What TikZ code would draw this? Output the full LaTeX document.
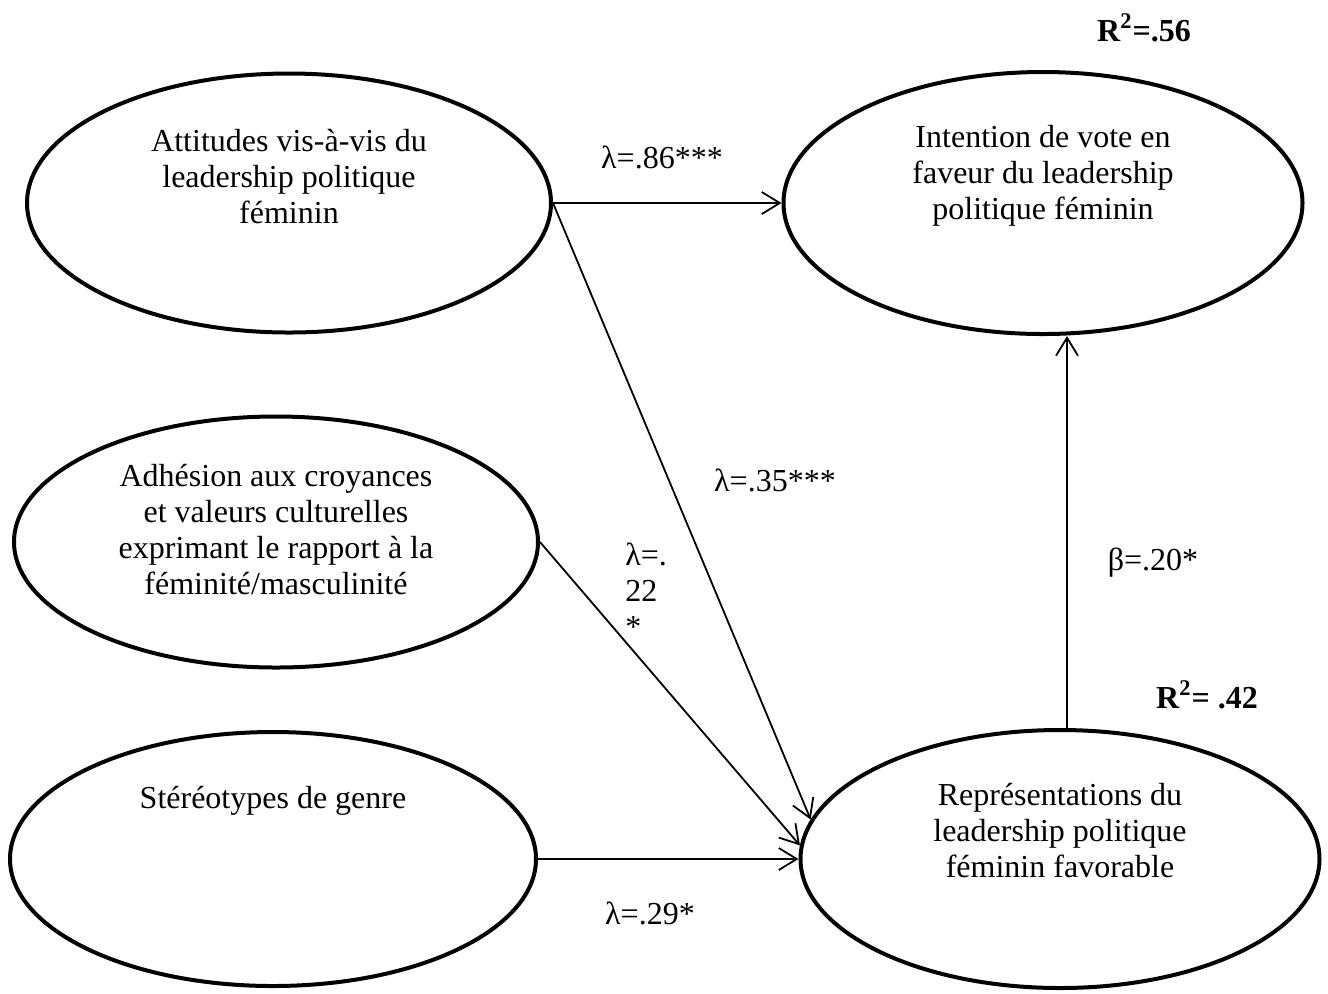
\documentclass[tikz,border=0pt]{standalone}
\usepackage{fontspec}
\setmainfont{Liberation Serif}
\usetikzlibrary{arrows.meta, shapes.geometric, positioning, calc}

\begin{document}
\begin{tikzpicture}[
    x=0.5pt, y=-0.5pt,
    >={Straight Barb[length=9pt, width=11pt]},
    construct/.style={
      ellipse, draw=black, line width=2pt, inner sep=0pt,
      minimum width=261pt, minimum height=129pt,
    },
    every node/.style={font=\fontsize{16}{18}\selectfont},
    construct text/.style={align=center, inner sep=0pt},
    path arrow/.style={->, line width=0.9pt},
    coef/.style={inner sep=0pt},
    rsq/.style={inner sep=0pt, font=\fontsize{16}{18}\selectfont\bfseries},
  ]

  %% ---- canvas (1 unit = 1 px of the layout) ----
  \useasboundingbox (0,0) rectangle (1328,993);

  %% ---- latent constructs ----
  \node[construct, minimum width=262pt, minimum height=129.5pt]
    (att) at (289,203) {};
  \node[construct, minimum width=259.5pt, minimum height=131pt]
    (int) at (1043,203) {};
  \node[construct, minimum width=262pt, minimum height=125.5pt]
    (adh) at (276,542) {};
  \node[construct, minimum width=263pt, minimum height=127pt]
    (ste) at (273,859) {};
  \node[construct, minimum width=259.5pt, minimum height=129pt]
    (rep) at (1060,859) {};

  % texts sit in the upper half of each ellipse
  \node[construct text] (attText) at ([yshift=13pt]att.center)
    {Attitudes vis-à-vis du\\leadership politique\\féminin};
  \node[construct text] (intText) at ([yshift=13.5pt]int.center)
    {Intention de vote en\\faveur du leadership\\politique féminin};
  \node[construct text] (adhText) at ([yshift=6pt]adh.center)
    {Adhésion aux croyances\\et valeurs culturelles\\exprimant le rapport à la\\féminité/masculinité};
  \node[construct text] (steText) at ([yshift=29pt]ste.center)
    {Stéréotypes de genre};
  \node[construct text] (repText) at ([yshift=14pt]rep.center)
    {Représentations du\\leadership politique\\féminin favorable};

  %% ---- paths ----
  \draw[path arrow] (att.east) -- (int.west);
  \draw[path arrow] (att.east) -- (rep.171.6);
  \draw[path arrow] (adh.east) -- (rep.177.6);
  \draw[path arrow] (ste.east) -- (rep.west);
  \draw[path arrow] ([xshift=3.5pt]rep.north)
    -- ([xshift=3.5pt]rep.north |- int.south);

  %% ---- coefficients ----
  \node[coef] (l86) at (662,157) {λ=.86***};
  \node[coef] (l35) at (775,480) {λ=.35***};
  \node[coef, align=left, anchor=west] (l22) at (625,590) {λ=.\\22\\*};
  \node[coef] (l29) at (650,913) {λ=.29*};
  \node[coef] (b20) at (1153,563) {β=.20*};

  %% ---- explained variance ----
  \node[rsq] (r56) at (1144,28)  {R\textsuperscript{2}=.56};
  \node[rsq] (r42) at (1207,695) {R\textsuperscript{2}= .42};

\end{tikzpicture}
\end{document}
